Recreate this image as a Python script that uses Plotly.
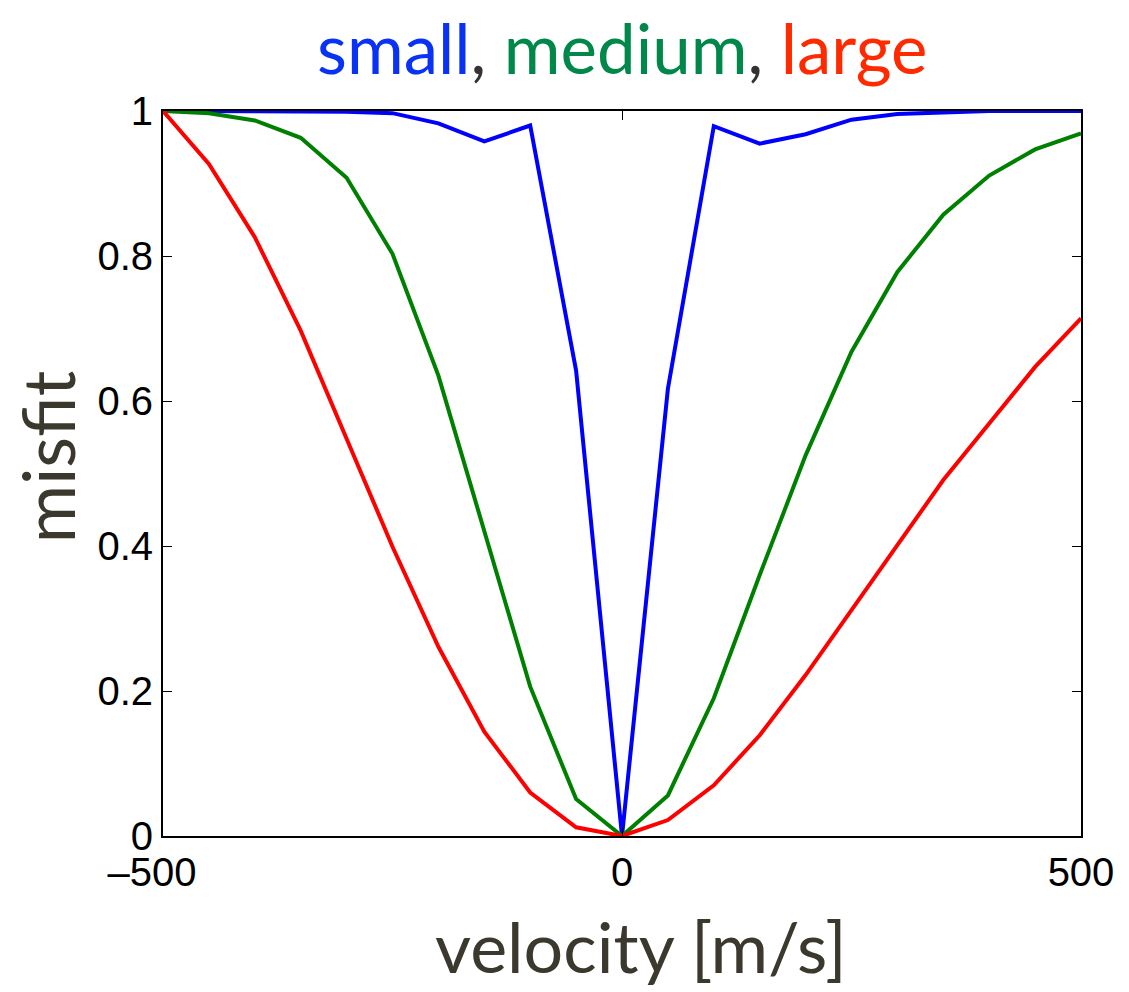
import plotly.graph_objects as go

velocity = [-500, -450, -400, -350, -300, -250, -200, -150, -100, -50, 0,
            50, 100, 150, 200, 250, 300, 350, 400, 450, 500]

small = [1.0, 1.0, 1.0, 1.0, 0.999, 0.997, 0.983, 0.958, 0.980, 0.642, 0.0,
         0.617, 0.979, 0.955, 0.968, 0.988, 0.996, 0.998, 1.0, 1.0, 1.0]
medium = [1.0, 0.997, 0.987, 0.963, 0.908, 0.803, 0.635, 0.422, 0.206, 0.051, 0.0,
          0.056, 0.190, 0.360, 0.525, 0.668, 0.778, 0.857, 0.911, 0.947, 0.969]
large = [1.0, 0.927, 0.826, 0.697, 0.548, 0.399, 0.261, 0.144, 0.060, 0.012, 0.0,
         0.022, 0.070, 0.139, 0.222, 0.312, 0.402, 0.491, 0.569, 0.647, 0.714]

series = [("small", small, "#0000ff"), ("medium", medium, "#008000"), ("large", large, "#ff0000")]

y_ticks = [0, 0.2, 0.4, 0.6, 0.8, 1]
y_ticktext = ["0", "0.2", "0.4", "0.6", "0.8", "1"]
x_ticks = [-500, 0, 500]
x_ticktext = ["\u2013500\u2007", "0", "500"]

fig = go.Figure()
for name, vals, col in series:
    fig.add_trace(go.Scatter(x=velocity, y=vals, mode="lines", name=name,
                             line=dict(color=col, width=4)))

tick_font = dict(family="Liberation Sans, Arial, sans-serif", size=40, color="black")
title_font_family = "Lato, Open Sans, sans-serif"
axis_title_color = "#3b392e"

fig.update_layout(
    width=1129, height=992,
    margin=dict(l=163, r=48, t=111, b=156),
    paper_bgcolor="white", plot_bgcolor="white",
    showlegend=False,
    xaxis=dict(range=[-500, 500], tickvals=x_ticks, ticktext=x_ticktext,
               ticks="inside", ticklen=9, tickwidth=1.2, tickcolor="black",
               showline=True, linecolor="black", linewidth=1.8, mirror="ticks",
               showgrid=False, zeroline=False, tickfont=tick_font),
    yaxis=dict(range=[0, 1], tickvals=y_ticks, ticktext=y_ticktext,
               ticks="inside", ticklen=9, tickwidth=1.2, tickcolor="black",
               showline=True, linecolor="black", linewidth=1.8, mirror="ticks",
               showgrid=False, zeroline=False, tickfont=tick_font),
    annotations=[
        dict(text=("<span style='color:#0a32f5'>small</span>"
                   "<span style='color:#333333'>, </span>"
                   "<span style='color:#00884a'>medium</span>"
                   "<span style='color:#333333'>, </span>"
                   "<span style='color:#ff2a00'>large</span>"),
             xref="paper", yref="paper", x=0.5, y=1.088,
             xanchor="center", yanchor="middle", showarrow=False,
             font=dict(family=title_font_family, size=69)),
        dict(text="velocity [m/s]", xref="paper", yref="paper", x=0.521, y=-0.152,
             xanchor="center", yanchor="middle", showarrow=False,
             font=dict(family=title_font_family, size=70, color=axis_title_color)),
        dict(text="misfit", xref="paper", yref="paper", x=-0.126, y=0.523,
             xanchor="center", yanchor="middle", showarrow=False, textangle=-90,
             font=dict(family=title_font_family, size=71, color=axis_title_color)),
    ],
)

fig.write_html("out.html")
